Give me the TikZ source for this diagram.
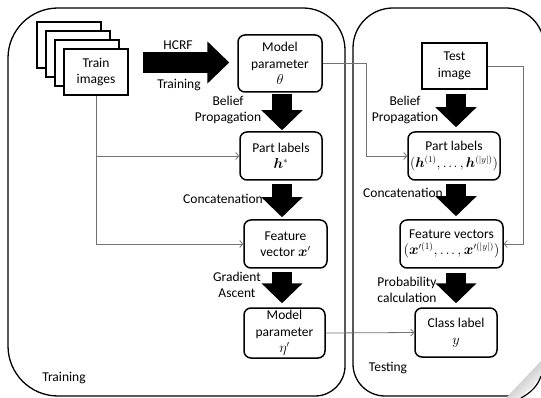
\documentclass[tikz,border=0pt]{standalone}
\usepackage{amsmath,bm,graphicx}
\usepackage{fontspec}
\setmainfont{Carlito}
\usetikzlibrary{arrows.meta}

\newcommand{\tightdots}{\mathinner{\ldotp\mkern-1mu\ldotp\mkern-1mu\ldotp}}

\begin{document}
\begin{tikzpicture}[x=1pt,y=-1pt,
  font=\fontsize{13.5}{16.5}\selectfont,
  panel/.style={line width=1.3pt, draw=black},
  rbox/.style={draw, line width=1.5pt, rounded corners=7pt, align=center, inner sep=0pt, fill=white},
  sbox/.style={draw, line width=1.3pt, fill=white, align=center, inner sep=0pt},
  fat/.style={line width=20pt, -{Triangle[width=40pt,length=20pt]}},
  link/.style={draw=black!55, line width=0.8pt, -{Straight Barb[length=3pt,width=7pt]}},
  lbl/.style={align=center, inner sep=0pt}
]
\useasboundingbox (0,0) rectangle (541,398);

% the two panels
\draw[panel] (8,200) [rounded corners=50pt] -- (8,8) [rounded corners=42pt] -- (345,8)
  [rounded corners=30pt] -- (345,396) [rounded corners=50pt] -- (8,396) [sharp corners] -- cycle;
\begin{scope}
\clip (0,0) rectangle (541,398);
\draw[panel] (353,200) [rounded corners=40pt] -- (353,8) [rounded corners=38pt] -- (544,8)
  -- (544,396) [rounded corners=32pt] -- (353,396) [sharp corners] -- cycle;
% curled page corner
\shade[left color=black!35, right color=white, shading angle=45]
  (506,398) -- (541,361) -- (541,376) -- (521,398) -- cycle;
\fill[white] (521,398) -- (541,376) -- (541,398) -- cycle;
\draw[line width=1.2pt] (521,398) .. controls (532,392) and (538,385) .. (541,376);
\end{scope}

% stack of training images
\foreach \d in {27,18,9} {
  \draw[line width=1.3pt, fill=white] (64-\d,49-\d) rectangle (128-\d,95-\d);
}
\node[sbox, minimum width=64pt, minimum height=46pt] (train) at (96,72) {Train\\images};

% training column
\node[rbox, minimum width=84pt, minimum height=57pt] (mp) at (280,63.5) {Model\\parameter\\$\theta$};
\node[rbox, minimum width=82pt, minimum height=48pt] (pl) at (281,156) {Part labels\\$\bm{h}^{*}$};
\node[rbox, minimum width=83pt, minimum height=48pt] (fv) at (285.5,244) {Feature\\vector $\bm{x}'$};
\node[rbox, minimum width=81pt, minimum height=50pt] (mp2) at (284.5,333) {Model\\parameter\\$\eta'$};

% testing column
\node[sbox, minimum width=65pt, minimum height=46pt] (ti) at (454.5,66) {Test\\image};
\node[rbox, minimum width=92pt, minimum height=48pt] (pl2) at (454,156)
  {Part labels\\\resizebox{88pt}{!}{$(\bm{h}^{(1)},\tightdots,\bm{h}^{(|y|)})$}};
\node[rbox, minimum width=103pt, minimum height=48pt] (fv2) at (451.5,244)
  {Feature vectors\\\resizebox{96pt}{!}{$(\bm{x}'^{(1)},\tightdots,\bm{x}'^{(|y|)})$}};
\node[rbox, minimum width=82pt, minimum height=49pt] (cl) at (456,332.5) {Class label\\$y$};

% thick process arrows
\coordinate (cL) at (282,0);
\coordinate (cR) at (456,0);
\coordinate (hy) at (0,62.5);
\draw[fat, line width=21pt, -{Triangle[width=41pt,length=22pt]}, shorten <=14pt, shorten >=8pt]
  (train.east |- hy) -- (mp.west |- hy);
\draw[fat, shorten <=1pt, shorten >=1pt] (mp.south -| cL) -- (pl.north -| cL);
\draw[fat, shorten <=3pt, shorten >=2pt] (pl.south -| cL) -- (fv.north -| cL);
\draw[fat, shorten <=3pt, shorten >=4pt] (fv.south -| cL) -- (mp2.north -| cL);
\draw[fat, shorten <=4pt, shorten >=4pt] (ti.south -| cR) -- (pl2.north -| cR);
\draw[fat, shorten <=3pt, shorten >=3pt] (pl2.south -| cR) -- (fv2.north -| cR);
\draw[fat, shorten <=4pt, shorten >=4pt] (fv2.south -| cR) -- (cl.north -| cR);

% arrow labels
\node[lbl] (lh) at (178,45) {HCRF};
\node[lbl] (lt) at (179,85) {Training};
\node[lbl] (bp1) at (228,110) {Belief\\Propagation};
\node[lbl] (cc1) at (223,199) {Concatenation};
\node[lbl] (ga) at (237,285) {Gradient\\Ascent};
\node[lbl] (bp2) at (405,110) {Belief\\Propagation};
\node[lbl] (cc2) at (403,193) {Concatenation};
\node[lbl] (pc) at (407,290) {Probability\\calculation};

% panel titles
\node[lbl] (trn) at (64,378) {Training};
\node[lbl] (tst) at (388,368) {Testing};

% thin data links
\coordinate (ex1) at (366,0);
\coordinate (ex2) at (523,0);
\draw[link] (train.south) |- (fv.west);
\draw[link] (train.south |- pl.west) -- (pl.west);
\draw[link] (mp.east) -- (mp.east -| ex1) |- (pl2.west);
\draw[link] (ti.east) -- (ti.east -| ex2) |- (fv2.east);
\draw[link] (mp2.east) -- (cl.west);
\end{tikzpicture}
\end{document}
